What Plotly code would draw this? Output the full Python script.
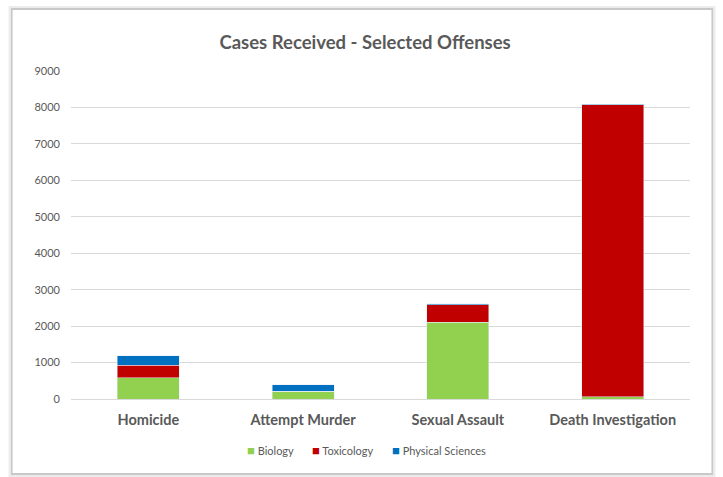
import plotly.graph_objects as go

categories = ["Homicide", "Attempt Murder", "Sexual Assault", "Death Investigation"]
biology = [590, 210, 2100, 65]
toxicology = [330, 0, 490, 8010]
physical_sciences = [270, 180, 20, 15]
y_ticks = [0, 1000, 2000, 3000, 4000, 5000, 6000, 7000, 8000, 9000]
series_names = ["Biology", "Toxicology", "Physical Sciences"]
series_colors = ["#92D050", "#C00000", "#0070C0"]

W, H = 723, 477
L, R, T, B = 70.5, 32.5, 71, 78
pw, ph = W - L - R, H - T - B

def px(x):
    return (x - L) / pw

def py(y):
    return (H - B - y) / ph

fig = go.Figure()
for name, vals, col in zip(series_names, [biology, toxicology, physical_sciences], series_colors):
    fig.add_bar(name=name, x=categories, y=vals, marker_color=col, showlegend=False)

legend_x = [247, 312, 392]
annotations = []
for name, col, lx in zip(series_names, series_colors, legend_x):
    annotations.append(dict(
        xref="paper", yref="paper", x=px(lx - 2), y=py(450), xanchor="left", yanchor="middle",
        text=f"<span style='color:{col};font-size:13px'>■</span> {name}", showarrow=False,
        font=dict(size=11, color="#595959", family="Lato, sans-serif")))

fig.update_layout(
    barmode="stack",
    bargap=0.6,
    width=W, height=H,
    margin=dict(l=L, r=R, t=T, b=B, pad=0),
    paper_bgcolor="white",
    plot_bgcolor="white",
    font=dict(family="Lato, Open Sans, sans-serif", color="#595959"),
    title=dict(text="<b>Cases Received - Selected Offenses</b>", x=0.505, xanchor="center",
               y=1 - 43 / H, yanchor="middle", font=dict(size=18.5, color="#595959")),
    xaxis=dict(tickfont=dict(size=14.5, color="#595959"), ticklabelstandoff=8,
               showline=True, linecolor="#d9d9d9", linewidth=1, ticks="",
               tickprefix="<b>", ticksuffix="</b>"),
    yaxis=dict(range=[0, 9000], tickvals=y_ticks, tickfont=dict(size=11, color="#595959"),
               gridcolor="#d9d9d9", gridwidth=1, zeroline=False, ticks="",
               ticklabelstandoff=10),
    annotations=annotations,
    shapes=[
        dict(type="rect", xref="paper", yref="paper",
             x0=px(11), x1=px(713), y0=py(474), y1=py(9),
             line=dict(color="#c8c8c8", width=2), fillcolor="rgba(0,0,0,0)", layer="below"),
        dict(type="rect", xref="paper", yref="paper",
             x0=px(9), x1=px(715), y0=py(476), y1=py(7),
             line=dict(color="#ebebeb", width=2), fillcolor="rgba(0,0,0,0)", layer="below"),
    ],
)

fig.write_html("out.html", config={"displayModeBar": False},
               post_script="document.body.style.margin='0';")
